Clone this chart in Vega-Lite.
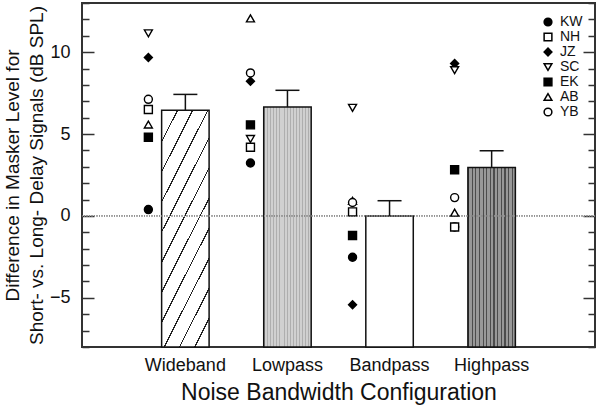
{
  "$schema": "https://vega.github.io/schema/vega-lite/v6.json",
  "width": 513,
  "height": 344,
  "autosize": {"type": "none"},
  "padding": {"left": 82, "top": 3, "right": 5, "bottom": 58},
  "background": "white",
  "config": {
    "font": "Liberation Sans",
    "view": {"stroke": "#333", "strokeWidth": 2},
    "axis": {"grid": false, "domain": false, "labelColor": "#111", "titleColor": "#111", "titleFontWeight": "normal", "labelFont": "Liberation Sans", "titleFont": "Liberation Sans"},
    "legend": {"labelFont": "Liberation Sans"}
  },
  "datasets": {
    "bars": [
      {"config": "Wideband", "mean": 6.45, "errTop": 7.42},
      {"config": "Lowpass", "mean": 6.65, "errTop": 7.67},
      {"config": "Bandpass", "mean": 0.0, "errTop": 0.93},
      {"config": "Highpass", "mean": 2.96, "errTop": 3.98}
    ],
    "subjects": [
      {"config": "Wideband", "subject": "KW", "value": 0.39},
      {"config": "Wideband", "subject": "NH", "value": 6.5},
      {"config": "Wideband", "subject": "JZ", "value": 9.67},
      {"config": "Wideband", "subject": "SC", "value": 11.15},
      {"config": "Wideband", "subject": "EK", "value": 4.8},
      {"config": "Wideband", "subject": "AB", "value": 5.58},
      {"config": "Wideband", "subject": "YB", "value": 7.12},
      {"config": "Lowpass", "subject": "KW", "value": 3.23},
      {"config": "Lowpass", "subject": "NH", "value": 4.19},
      {"config": "Lowpass", "subject": "JZ", "value": 8.22},
      {"config": "Lowpass", "subject": "SC", "value": 4.7},
      {"config": "Lowpass", "subject": "EK", "value": 5.56},
      {"config": "Lowpass", "subject": "AB", "value": 12.06},
      {"config": "Lowpass", "subject": "YB", "value": 8.73},
      {"config": "Bandpass", "subject": "KW", "value": -2.52},
      {"config": "Bandpass", "subject": "NH", "value": 0.25},
      {"config": "Bandpass", "subject": "JZ", "value": -5.42},
      {"config": "Bandpass", "subject": "SC", "value": 6.6},
      {"config": "Bandpass", "subject": "EK", "value": -1.19},
      {"config": "Bandpass", "subject": "AB", "value": 0.92},
      {"config": "Bandpass", "subject": "YB", "value": 0.82},
      {"config": "Highpass", "subject": "KW", "value": -0.67},
      {"config": "Highpass", "subject": "NH", "value": -0.67},
      {"config": "Highpass", "subject": "JZ", "value": 9.3},
      {"config": "Highpass", "subject": "SC", "value": 8.9},
      {"config": "Highpass", "subject": "EK", "value": 2.82},
      {"config": "Highpass", "subject": "AB", "value": 0.2},
      {"config": "Highpass", "subject": "YB", "value": 1.12}
    ]
  },
  "encoding": {
    "x": {
      "field": "config",
      "type": "nominal",
      "scale": {"domain": ["Wideband", "Lowpass", "Bandpass", "Highpass"], "paddingInner": 0.535, "paddingOuter": 0.78},
      "axis": {"title": "Noise Bandwidth Configuration", "labelAngle": 0, "ticks": false, "labelFontSize": 18, "labelPadding": 9, "titleFontSize": 23, "titlePadding": 7}
    }
  },
  "layer": [
    {
      "data": {"name": "bars"},
      "mark": {"type": "bar", "stroke": "#111", "strokeWidth": 1.5},
      "encoding": {
        "y": {
          "field": "mean",
          "type": "quantitative",
          "scale": {"domain": [-8, 13], "nice": false, "zero": false},
          "axis": {
            "orient": "left",
            "values": [-8, -7, -6, -5, -4, -3, -2, -1, 0, 1, 2, 3, 4, 5, 6, 7, 8, 9, 10, 11, 12, 13],
            "labelExpr": "datum.value % 5 === 0 ? datum.label : ''",
            "tickSize": {"condition": {"test": "datum.value % 5 === 0", "value": -12}, "value": -7},
            "tickColor": "#333",
            "tickWidth": 1.5,
            "labelPadding": 24,
            "labelFlush": false,
            "labelFontSize": 18,
            "title": ["Difference in Masker Level for", "Short- vs. Long- Delay Signals (dB SPL)"],
            "titleFontSize": 19,
            "titleLineHeight": 23.5,
            "titlePadding": 3
          }
        },
        "y2": {"datum": -8},
        "fill": {
          "condition": [
            {
              "test": "datum.config === 'Wideband'",
              "value": {
                "gradient": "linear", "x1": 0, "y1": 0, "x2": 0.479, "y2": 1.207,
                "stops": [
                  {"offset": 0.0, "color": "#222"}, {"offset": 0.008, "color": "#222"}, {"offset": 0.008, "color": "white"}, {"offset": 0.0909, "color": "white"},
                  {"offset": 0.0909, "color": "#222"}, {"offset": 0.0989, "color": "#222"}, {"offset": 0.0989, "color": "white"}, {"offset": 0.1818, "color": "white"},
                  {"offset": 0.1818, "color": "#222"}, {"offset": 0.1898, "color": "#222"}, {"offset": 0.1898, "color": "white"}, {"offset": 0.2727, "color": "white"},
                  {"offset": 0.2727, "color": "#222"}, {"offset": 0.2807, "color": "#222"}, {"offset": 0.2807, "color": "white"}, {"offset": 0.3636, "color": "white"},
                  {"offset": 0.3636, "color": "#222"}, {"offset": 0.3716, "color": "#222"}, {"offset": 0.3716, "color": "white"}, {"offset": 0.4545, "color": "white"},
                  {"offset": 0.4545, "color": "#222"}, {"offset": 0.4625, "color": "#222"}, {"offset": 0.4625, "color": "white"}, {"offset": 0.5455, "color": "white"},
                  {"offset": 0.5455, "color": "#222"}, {"offset": 0.5535, "color": "#222"}, {"offset": 0.5535, "color": "white"}, {"offset": 0.6364, "color": "white"},
                  {"offset": 0.6364, "color": "#222"}, {"offset": 0.6444, "color": "#222"}, {"offset": 0.6444, "color": "white"}, {"offset": 0.7273, "color": "white"},
                  {"offset": 0.7273, "color": "#222"}, {"offset": 0.7353, "color": "#222"}, {"offset": 0.7353, "color": "white"}, {"offset": 0.8182, "color": "white"},
                  {"offset": 0.8182, "color": "#222"}, {"offset": 0.8262, "color": "#222"}, {"offset": 0.8262, "color": "white"}, {"offset": 0.9091, "color": "white"},
                  {"offset": 0.9091, "color": "#222"}, {"offset": 0.9171, "color": "#222"}, {"offset": 0.9171, "color": "white"}, {"offset": 1.0, "color": "white"}
                ]
              }
            },
            {
              "test": "datum.config === 'Lowpass'",
              "value": {
                "gradient": "linear", "x1": 0, "y1": 0, "x2": 1, "y2": 0,
                "stops": [
                  {"offset": 0.0, "color": "#aeaeae"}, {"offset": 0.02, "color": "#aeaeae"}, {"offset": 0.02, "color": "#d0d0d0"}, {"offset": 0.0625, "color": "#d0d0d0"},
                  {"offset": 0.0625, "color": "#aeaeae"}, {"offset": 0.0825, "color": "#aeaeae"}, {"offset": 0.0825, "color": "#d0d0d0"}, {"offset": 0.125, "color": "#d0d0d0"},
                  {"offset": 0.125, "color": "#aeaeae"}, {"offset": 0.145, "color": "#aeaeae"}, {"offset": 0.145, "color": "#d0d0d0"}, {"offset": 0.1875, "color": "#d0d0d0"},
                  {"offset": 0.1875, "color": "#aeaeae"}, {"offset": 0.2075, "color": "#aeaeae"}, {"offset": 0.2075, "color": "#d0d0d0"}, {"offset": 0.25, "color": "#d0d0d0"},
                  {"offset": 0.25, "color": "#aeaeae"}, {"offset": 0.27, "color": "#aeaeae"}, {"offset": 0.27, "color": "#d0d0d0"}, {"offset": 0.3125, "color": "#d0d0d0"},
                  {"offset": 0.3125, "color": "#aeaeae"}, {"offset": 0.3325, "color": "#aeaeae"}, {"offset": 0.3325, "color": "#d0d0d0"}, {"offset": 0.375, "color": "#d0d0d0"},
                  {"offset": 0.375, "color": "#aeaeae"}, {"offset": 0.395, "color": "#aeaeae"}, {"offset": 0.395, "color": "#d0d0d0"}, {"offset": 0.4375, "color": "#d0d0d0"},
                  {"offset": 0.4375, "color": "#aeaeae"}, {"offset": 0.4575, "color": "#aeaeae"}, {"offset": 0.4575, "color": "#d0d0d0"}, {"offset": 0.5, "color": "#d0d0d0"},
                  {"offset": 0.5, "color": "#aeaeae"}, {"offset": 0.52, "color": "#aeaeae"}, {"offset": 0.52, "color": "#d0d0d0"}, {"offset": 0.5625, "color": "#d0d0d0"},
                  {"offset": 0.5625, "color": "#aeaeae"}, {"offset": 0.5825, "color": "#aeaeae"}, {"offset": 0.5825, "color": "#d0d0d0"}, {"offset": 0.625, "color": "#d0d0d0"},
                  {"offset": 0.625, "color": "#aeaeae"}, {"offset": 0.645, "color": "#aeaeae"}, {"offset": 0.645, "color": "#d0d0d0"}, {"offset": 0.6875, "color": "#d0d0d0"},
                  {"offset": 0.6875, "color": "#aeaeae"}, {"offset": 0.7075, "color": "#aeaeae"}, {"offset": 0.7075, "color": "#d0d0d0"}, {"offset": 0.75, "color": "#d0d0d0"},
                  {"offset": 0.75, "color": "#aeaeae"}, {"offset": 0.77, "color": "#aeaeae"}, {"offset": 0.77, "color": "#d0d0d0"}, {"offset": 0.8125, "color": "#d0d0d0"},
                  {"offset": 0.8125, "color": "#aeaeae"}, {"offset": 0.8325, "color": "#aeaeae"}, {"offset": 0.8325, "color": "#d0d0d0"}, {"offset": 0.875, "color": "#d0d0d0"},
                  {"offset": 0.875, "color": "#aeaeae"}, {"offset": 0.895, "color": "#aeaeae"}, {"offset": 0.895, "color": "#d0d0d0"}, {"offset": 0.9375, "color": "#d0d0d0"},
                  {"offset": 0.9375, "color": "#aeaeae"}, {"offset": 0.9575, "color": "#aeaeae"}, {"offset": 0.9575, "color": "#d0d0d0"}, {"offset": 1.0, "color": "#d0d0d0"}
                ]
              }
            },
            {
              "test": "datum.config === 'Highpass'",
              "value": {
                "gradient": "linear", "x1": 0, "y1": 0, "x2": 1, "y2": 0,
                "stops": [
                  {"offset": 0.0, "color": "#4c4c4c"}, {"offset": 0.027, "color": "#4c4c4c"}, {"offset": 0.027, "color": "#989898"}, {"offset": 0.0769, "color": "#989898"},
                  {"offset": 0.0769, "color": "#4c4c4c"}, {"offset": 0.1039, "color": "#4c4c4c"}, {"offset": 0.1039, "color": "#989898"}, {"offset": 0.1538, "color": "#989898"},
                  {"offset": 0.1538, "color": "#4c4c4c"}, {"offset": 0.1808, "color": "#4c4c4c"}, {"offset": 0.1808, "color": "#989898"}, {"offset": 0.2308, "color": "#989898"},
                  {"offset": 0.2308, "color": "#4c4c4c"}, {"offset": 0.2578, "color": "#4c4c4c"}, {"offset": 0.2578, "color": "#989898"}, {"offset": 0.3077, "color": "#989898"},
                  {"offset": 0.3077, "color": "#4c4c4c"}, {"offset": 0.3347, "color": "#4c4c4c"}, {"offset": 0.3347, "color": "#989898"}, {"offset": 0.3846, "color": "#989898"},
                  {"offset": 0.3846, "color": "#4c4c4c"}, {"offset": 0.4116, "color": "#4c4c4c"}, {"offset": 0.4116, "color": "#989898"}, {"offset": 0.4615, "color": "#989898"},
                  {"offset": 0.4615, "color": "#4c4c4c"}, {"offset": 0.4885, "color": "#4c4c4c"}, {"offset": 0.4885, "color": "#989898"}, {"offset": 0.5385, "color": "#989898"},
                  {"offset": 0.5385, "color": "#4c4c4c"}, {"offset": 0.5655, "color": "#4c4c4c"}, {"offset": 0.5655, "color": "#989898"}, {"offset": 0.6154, "color": "#989898"},
                  {"offset": 0.6154, "color": "#4c4c4c"}, {"offset": 0.6424, "color": "#4c4c4c"}, {"offset": 0.6424, "color": "#989898"}, {"offset": 0.6923, "color": "#989898"},
                  {"offset": 0.6923, "color": "#4c4c4c"}, {"offset": 0.7193, "color": "#4c4c4c"}, {"offset": 0.7193, "color": "#989898"}, {"offset": 0.7692, "color": "#989898"},
                  {"offset": 0.7692, "color": "#4c4c4c"}, {"offset": 0.7962, "color": "#4c4c4c"}, {"offset": 0.7962, "color": "#989898"}, {"offset": 0.8462, "color": "#989898"},
                  {"offset": 0.8462, "color": "#4c4c4c"}, {"offset": 0.8732, "color": "#4c4c4c"}, {"offset": 0.8732, "color": "#989898"}, {"offset": 0.9231, "color": "#989898"},
                  {"offset": 0.9231, "color": "#4c4c4c"}, {"offset": 0.9501, "color": "#4c4c4c"}, {"offset": 0.9501, "color": "#989898"}, {"offset": 1.0, "color": "#989898"}
                ]
              }
            }
          ],
          "value": "white"
        }
      }
    },
    {
      "data": {"name": "bars"},
      "mark": {"type": "rule", "stroke": "#8a8a8a", "strokeWidth": 1, "strokeDash": [1, 1.5]},
      "encoding": {
        "x": null,
        "y": {
          "datum": 0,
          "type": "quantitative",
          "scale": {"domain": [-8, 13], "nice": false, "zero": false},
          "axis": {
            "orient": "right",
            "values": [-8, -7, -6, -5, -4, -3, -2, -1, 0, 1, 2, 3, 4, 5, 6, 7, 8, 9, 10, 11, 12, 13],
            "labels": false,
            "tickSize": {"condition": {"test": "datum.value % 5 === 0", "value": -12}, "value": -7},
            "tickColor": "#333",
            "tickWidth": 1.5,
            "title": null
          }
        }
      }
    },
    {
      "data": {"name": "bars"},
      "mark": {"type": "rule", "stroke": "#111", "strokeWidth": 1.5},
      "encoding": {
        "y": {"field": "mean", "type": "quantitative", "scale": {"domain": [-8, 13], "nice": false, "zero": false}, "axis": null},
        "y2": {"field": "errTop"}
      }
    },
    {
      "data": {"name": "bars"},
      "mark": {"type": "tick", "color": "#111", "size": 24, "thickness": 1.5, "opacity": 1},
      "encoding": {
        "y": {"field": "errTop", "type": "quantitative", "scale": {"domain": [-8, 13], "nice": false, "zero": false}, "axis": null}
      }
    },
    {
      "data": {"name": "subjects"},
      "mark": {"type": "point", "filled": true, "stroke": "black", "strokeWidth": 1.4, "size": 64, "opacity": 1, "xOffset": -37},
      "encoding": {
        "y": {"field": "value", "type": "quantitative", "scale": {"domain": [-8, 13], "nice": false, "zero": false}, "axis": null},
        "shape": {
          "field": "subject",
          "type": "nominal",
          "scale": {"domain": ["KW", "NH", "JZ", "SC", "EK", "AB", "YB"], "range": ["circle", "square", "diamond", "triangle-down", "square", "triangle-up", "circle"]},
          "legend": {
            "title": null, "orient": "top-right", "offset": 12, "padding": 0, "labelFontSize": 14, "labelOffset": 5, "rowPadding": 1, "symbolSize": 60, "labelColor": "#111",
            "encode": {"symbols": {"update": {"stroke": {"value": "black"}, "strokeWidth": {"value": 1.4}, "opacity": {"value": 1}}}}
          }
        },
        "fill": {
          "field": "subject",
          "type": "nominal",
          "scale": {"domain": ["KW", "NH", "JZ", "SC", "EK", "AB", "YB"], "range": ["black", "white", "black", "white", "black", "white", "white"]},
          "legend": {
            "title": null, "orient": "top-right", "offset": 12, "padding": 0, "labelFontSize": 14, "labelOffset": 5, "rowPadding": 1, "symbolSize": 60, "labelColor": "#111",
            "encode": {"symbols": {"update": {"stroke": {"value": "black"}, "strokeWidth": {"value": 1.4}, "opacity": {"value": 1}}}}
          }
        }
      }
    }
  ],
  "resolve": {"axis": {"y": "independent"}}
}
